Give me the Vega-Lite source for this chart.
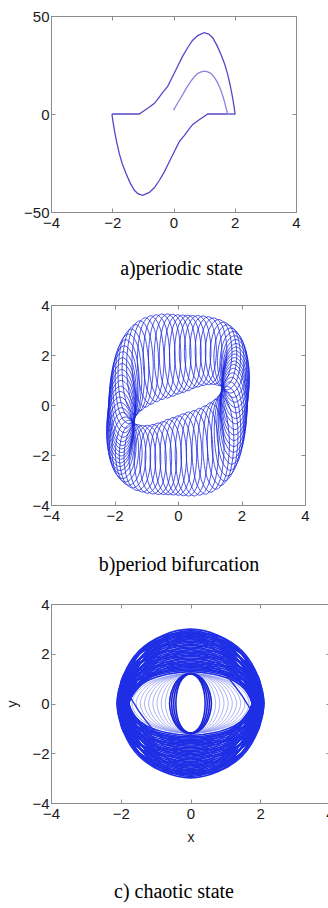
{
"$schema": "https://vega.github.io/schema/vega-lite/v6.json",
"padding": {"left": 4, "top": 5, "right": 0, "bottom": 0},
"columns": 1,
"align": "none",
"spacing": 13,
"datasets": {
"a": [
{"s":"o","i":0,"x":-2,"y":0},{"s":"o","i":1,"x":-1.12,"y":0},{"s":"o","i":2,"x":-0.84,"y":2.9},{"s":"o","i":3,"x":-0.63,"y":5.3},{"s":"o","i":4,"x":-0.52,"y":7.5},{"s":"o","i":5,"x":-0.35,"y":11},{"s":"o","i":6,"x":-0.19,"y":14.1},{"s":"o","i":7,"x":0,"y":20},{"s":"o","i":8,"x":0.14,"y":24.5},{"s":"o","i":9,"x":0.3,"y":29.5},{"s":"o","i":10,"x":0.46,"y":33.8},{"s":"o","i":11,"x":0.62,"y":37.5},{"s":"o","i":12,"x":0.79,"y":40},{"s":"o","i":13,"x":1,"y":41.5},{"s":"o","i":14,"x":1.15,"y":40.8},{"s":"o","i":15,"x":1.28,"y":38.9},{"s":"o","i":16,"x":1.42,"y":35},{"s":"o","i":17,"x":1.55,"y":30.4},{"s":"o","i":18,"x":1.67,"y":25.5},{"s":"o","i":19,"x":1.77,"y":20.2},{"s":"o","i":20,"x":1.86,"y":14},{"s":"o","i":21,"x":1.93,"y":8.3},{"s":"o","i":22,"x":1.98,"y":3.5},{"s":"o","i":23,"x":2.01,"y":0},{"s":"o","i":24,"x":1.12,"y":0},{"s":"o","i":25,"x":0.84,"y":-2.9},{"s":"o","i":26,"x":0.63,"y":-5.3},{"s":"o","i":27,"x":0.52,"y":-7.5},{"s":"o","i":28,"x":0.35,"y":-11},{"s":"o","i":29,"x":0.19,"y":-14.1},{"s":"o","i":30,"x":0,"y":-20},{"s":"o","i":31,"x":-0.14,"y":-24.5},{"s":"o","i":32,"x":-0.3,"y":-29.5},{"s":"o","i":33,"x":-0.46,"y":-33.8},{"s":"o","i":34,"x":-0.62,"y":-37.5},{"s":"o","i":35,"x":-0.79,"y":-40},{"s":"o","i":36,"x":-1,"y":-41.5},{"s":"o","i":37,"x":-1.15,"y":-40.8},{"s":"o","i":38,"x":-1.28,"y":-38.9},{"s":"o","i":39,"x":-1.42,"y":-35},{"s":"o","i":40,"x":-1.55,"y":-30.4},{"s":"o","i":41,"x":-1.67,"y":-25.5},{"s":"o","i":42,"x":-1.77,"y":-20.2},{"s":"o","i":43,"x":-1.86,"y":-14},{"s":"o","i":44,"x":-1.93,"y":-8.3},{"s":"o","i":45,"x":-1.98,"y":-3.5},{"s":"o","i":46,"x":-2.01,"y":0},
{"s":"n","i":0,"x":0,"y":1.9},{"s":"n","i":1,"x":0.15,"y":6},{"s":"n","i":2,"x":0.3,"y":9.9},{"s":"n","i":3,"x":0.45,"y":14},{"s":"n","i":4,"x":0.57,"y":16.8},{"s":"n","i":5,"x":0.68,"y":19},{"s":"n","i":6,"x":0.79,"y":20.6},{"s":"n","i":7,"x":0.9,"y":21.5},{"s":"n","i":8,"x":1.01,"y":21.9},{"s":"n","i":9,"x":1.12,"y":21.5},{"s":"n","i":10,"x":1.23,"y":20.6},{"s":"n","i":11,"x":1.34,"y":18.6},{"s":"n","i":12,"x":1.44,"y":16},{"s":"n","i":13,"x":1.53,"y":12.8},{"s":"n","i":14,"x":1.61,"y":9.2},{"s":"n","i":15,"x":1.67,"y":6},{"s":"n","i":16,"x":1.72,"y":3},{"s":"n","i":17,"x":1.77,"y":0},{"s":"n","i":18,"x":2,"y":0}
],
"b": [
{"l":0,"i":0,"x":2.2,"y":0.35},{"l":0,"i":1,"x":2.08,"y":1.45},{"l":0,"i":2,"x":1.78,"y":1.9},{"l":0,"i":3,"x":1.48,"y":1.45},{"l":0,"i":4,"x":1.36,"y":0.35},{"l":0,"i":5,"x":1.48,"y":-0.75},{"l":0,"i":6,"x":1.78,"y":-1.2},{"l":0,"i":7,"x":2.08,"y":-0.75},
{"l":1,"i":0,"x":2.23,"y":0.71},{"l":1,"i":1,"x":2.11,"y":1.74},{"l":1,"i":2,"x":1.81,"y":2.17},{"l":1,"i":3,"x":1.51,"y":1.74},{"l":1,"i":4,"x":1.39,"y":0.71},{"l":1,"i":5,"x":1.51,"y":-0.32},{"l":1,"i":6,"x":1.81,"y":-0.75},{"l":1,"i":7,"x":2.11,"y":-0.32},
{"l":2,"i":0,"x":2.25,"y":1.07},{"l":2,"i":1,"x":2.13,"y":2.05},{"l":2,"i":2,"x":1.83,"y":2.46},{"l":2,"i":3,"x":1.53,"y":2.05},{"l":2,"i":4,"x":1.41,"y":1.07},{"l":2,"i":5,"x":1.53,"y":0.09},{"l":2,"i":6,"x":1.83,"y":-0.32},{"l":2,"i":7,"x":2.13,"y":0.09},
{"l":3,"i":0,"x":2.21,"y":1.44},{"l":3,"i":1,"x":2.09,"y":2.38},{"l":3,"i":2,"x":1.79,"y":2.77},{"l":3,"i":3,"x":1.49,"y":2.38},{"l":3,"i":4,"x":1.37,"y":1.44},{"l":3,"i":5,"x":1.49,"y":0.5},{"l":3,"i":6,"x":1.79,"y":0.11},{"l":3,"i":7,"x":2.09,"y":0.5},
{"l":4,"i":0,"x":2.08,"y":1.78},{"l":4,"i":1,"x":1.96,"y":2.7},{"l":4,"i":2,"x":1.66,"y":3.08},{"l":4,"i":3,"x":1.36,"y":2.7},{"l":4,"i":4,"x":1.24,"y":1.78},{"l":4,"i":5,"x":1.36,"y":0.86},{"l":4,"i":6,"x":1.66,"y":0.48},{"l":4,"i":7,"x":1.96,"y":0.86},
{"l":5,"i":0,"x":1.85,"y":2.02},{"l":5,"i":1,"x":1.73,"y":2.94},{"l":5,"i":2,"x":1.43,"y":3.32},{"l":5,"i":3,"x":1.13,"y":2.94},{"l":5,"i":4,"x":1.01,"y":2.02},{"l":5,"i":5,"x":1.13,"y":1.1},{"l":5,"i":6,"x":1.43,"y":0.72},{"l":5,"i":7,"x":1.73,"y":1.1},
{"l":6,"i":0,"x":1.54,"y":2.15},{"l":6,"i":1,"x":1.42,"y":3.09},{"l":6,"i":2,"x":1.12,"y":3.48},{"l":6,"i":3,"x":0.82,"y":3.09},{"l":6,"i":4,"x":0.7,"y":2.15},{"l":6,"i":5,"x":0.82,"y":1.21},{"l":6,"i":6,"x":1.12,"y":0.82},{"l":6,"i":7,"x":1.42,"y":1.21},
{"l":7,"i":0,"x":1.21,"y":2.17},{"l":7,"i":1,"x":1.09,"y":3.15},{"l":7,"i":2,"x":0.79,"y":3.56},{"l":7,"i":3,"x":0.49,"y":3.15},{"l":7,"i":4,"x":0.37,"y":2.17},{"l":7,"i":5,"x":0.49,"y":1.19},{"l":7,"i":6,"x":0.79,"y":0.78},{"l":7,"i":7,"x":1.09,"y":1.19},
{"l":8,"i":0,"x":0.88,"y":2.12},{"l":8,"i":1,"x":0.76,"y":3.15},{"l":8,"i":2,"x":0.46,"y":3.58},{"l":8,"i":3,"x":0.16,"y":3.15},{"l":8,"i":4,"x":0.04,"y":2.12},{"l":8,"i":5,"x":0.16,"y":1.09},{"l":8,"i":6,"x":0.46,"y":0.66},{"l":8,"i":7,"x":0.76,"y":1.09},
{"l":9,"i":0,"x":0.57,"y":2.05},{"l":9,"i":1,"x":0.45,"y":3.15},{"l":9,"i":2,"x":0.15,"y":3.6},{"l":9,"i":3,"x":-0.15,"y":3.15},{"l":9,"i":4,"x":-0.27,"y":2.05},{"l":9,"i":5,"x":-0.15,"y":0.95},{"l":9,"i":6,"x":0.15,"y":0.5},{"l":9,"i":7,"x":0.45,"y":0.95},
{"l":10,"i":0,"x":0.25,"y":1.99},{"l":10,"i":1,"x":0.13,"y":3.15},{"l":10,"i":2,"x":-0.17,"y":3.63},{"l":10,"i":3,"x":-0.47,"y":3.15},{"l":10,"i":4,"x":-0.59,"y":1.99},{"l":10,"i":5,"x":-0.47,"y":0.83},{"l":10,"i":6,"x":-0.17,"y":0.35},{"l":10,"i":7,"x":0.13,"y":0.83},
{"l":11,"i":0,"x":-0.09,"y":1.93},{"l":11,"i":1,"x":-0.21,"y":3.14},{"l":11,"i":2,"x":-0.51,"y":3.64},{"l":11,"i":3,"x":-0.81,"y":3.14},{"l":11,"i":4,"x":-0.93,"y":1.93},{"l":11,"i":5,"x":-0.81,"y":0.72},{"l":11,"i":6,"x":-0.51,"y":0.22},{"l":11,"i":7,"x":-0.21,"y":0.72},
{"l":12,"i":0,"x":-0.44,"y":1.8},{"l":12,"i":1,"x":-0.56,"y":3.05},{"l":12,"i":2,"x":-0.86,"y":3.57},{"l":12,"i":3,"x":-1.16,"y":3.05},{"l":12,"i":4,"x":-1.28,"y":1.8},{"l":12,"i":5,"x":-1.16,"y":0.55},{"l":12,"i":6,"x":-0.86,"y":0.03},{"l":12,"i":7,"x":-0.56,"y":0.55},
{"l":13,"i":0,"x":-0.78,"y":1.57},{"l":13,"i":1,"x":-0.9,"y":2.84},{"l":13,"i":2,"x":-1.2,"y":3.37},{"l":13,"i":3,"x":-1.5,"y":2.84},{"l":13,"i":4,"x":-1.62,"y":1.57},{"l":13,"i":5,"x":-1.5,"y":0.3},{"l":13,"i":6,"x":-1.2,"y":-0.23},{"l":13,"i":7,"x":-0.9,"y":0.3},
{"l":14,"i":0,"x":-1.05,"y":1.24},{"l":14,"i":1,"x":-1.17,"y":2.51},{"l":14,"i":2,"x":-1.47,"y":3.04},{"l":14,"i":3,"x":-1.77,"y":2.51},{"l":14,"i":4,"x":-1.89,"y":1.24},{"l":14,"i":5,"x":-1.77,"y":-0.03},{"l":14,"i":6,"x":-1.47,"y":-0.56},{"l":14,"i":7,"x":-1.17,"y":-0.03},
{"l":15,"i":0,"x":-1.22,"y":0.84},{"l":15,"i":1,"x":-1.34,"y":2.09},{"l":15,"i":2,"x":-1.64,"y":2.61},{"l":15,"i":3,"x":-1.94,"y":2.09},{"l":15,"i":4,"x":-2.06,"y":0.84},{"l":15,"i":5,"x":-1.94,"y":-0.41},{"l":15,"i":6,"x":-1.64,"y":-0.93},{"l":15,"i":7,"x":-1.34,"y":-0.41},
{"l":16,"i":0,"x":-1.31,"y":0.42},{"l":16,"i":1,"x":-1.43,"y":1.63},{"l":16,"i":2,"x":-1.73,"y":2.13},{"l":16,"i":3,"x":-2.03,"y":1.63},{"l":16,"i":4,"x":-2.15,"y":0.42},{"l":16,"i":5,"x":-2.03,"y":-0.79},{"l":16,"i":6,"x":-1.73,"y":-1.29},{"l":16,"i":7,"x":-1.43,"y":-0.79},
{"l":17,"i":0,"x":-1.34,"y":0.02},{"l":17,"i":1,"x":-1.46,"y":1.18},{"l":17,"i":2,"x":-1.76,"y":1.66},{"l":17,"i":3,"x":-2.06,"y":1.18},{"l":17,"i":4,"x":-2.18,"y":0.02},{"l":17,"i":5,"x":-2.06,"y":-1.14},{"l":17,"i":6,"x":-1.76,"y":-1.62},{"l":17,"i":7,"x":-1.46,"y":-1.14},
{"l":18,"i":0,"x":-2.2,"y":-0.35},{"l":18,"i":1,"x":-2.08,"y":-1.45},{"l":18,"i":2,"x":-1.78,"y":-1.9},{"l":18,"i":3,"x":-1.48,"y":-1.45},{"l":18,"i":4,"x":-1.36,"y":-0.35},{"l":18,"i":5,"x":-1.48,"y":0.75},{"l":18,"i":6,"x":-1.78,"y":1.2},{"l":18,"i":7,"x":-2.08,"y":0.75},
{"l":19,"i":0,"x":-2.23,"y":-0.71},{"l":19,"i":1,"x":-2.11,"y":-1.74},{"l":19,"i":2,"x":-1.81,"y":-2.17},{"l":19,"i":3,"x":-1.51,"y":-1.74},{"l":19,"i":4,"x":-1.39,"y":-0.71},{"l":19,"i":5,"x":-1.51,"y":0.32},{"l":19,"i":6,"x":-1.81,"y":0.75},{"l":19,"i":7,"x":-2.11,"y":0.32},
{"l":20,"i":0,"x":-2.25,"y":-1.07},{"l":20,"i":1,"x":-2.13,"y":-2.05},{"l":20,"i":2,"x":-1.83,"y":-2.46},{"l":20,"i":3,"x":-1.53,"y":-2.05},{"l":20,"i":4,"x":-1.41,"y":-1.07},{"l":20,"i":5,"x":-1.53,"y":-0.09},{"l":20,"i":6,"x":-1.83,"y":0.32},{"l":20,"i":7,"x":-2.13,"y":-0.09},
{"l":21,"i":0,"x":-2.21,"y":-1.44},{"l":21,"i":1,"x":-2.09,"y":-2.38},{"l":21,"i":2,"x":-1.79,"y":-2.77},{"l":21,"i":3,"x":-1.49,"y":-2.38},{"l":21,"i":4,"x":-1.37,"y":-1.44},{"l":21,"i":5,"x":-1.49,"y":-0.5},{"l":21,"i":6,"x":-1.79,"y":-0.11},{"l":21,"i":7,"x":-2.09,"y":-0.5},
{"l":22,"i":0,"x":-2.08,"y":-1.78},{"l":22,"i":1,"x":-1.96,"y":-2.7},{"l":22,"i":2,"x":-1.66,"y":-3.08},{"l":22,"i":3,"x":-1.36,"y":-2.7},{"l":22,"i":4,"x":-1.24,"y":-1.78},{"l":22,"i":5,"x":-1.36,"y":-0.86},{"l":22,"i":6,"x":-1.66,"y":-0.48},{"l":22,"i":7,"x":-1.96,"y":-0.86},
{"l":23,"i":0,"x":-1.85,"y":-2.02},{"l":23,"i":1,"x":-1.73,"y":-2.94},{"l":23,"i":2,"x":-1.43,"y":-3.32},{"l":23,"i":3,"x":-1.13,"y":-2.94},{"l":23,"i":4,"x":-1.01,"y":-2.02},{"l":23,"i":5,"x":-1.13,"y":-1.1},{"l":23,"i":6,"x":-1.43,"y":-0.72},{"l":23,"i":7,"x":-1.73,"y":-1.1},
{"l":24,"i":0,"x":-1.54,"y":-2.15},{"l":24,"i":1,"x":-1.42,"y":-3.09},{"l":24,"i":2,"x":-1.12,"y":-3.48},{"l":24,"i":3,"x":-0.82,"y":-3.09},{"l":24,"i":4,"x":-0.7,"y":-2.15},{"l":24,"i":5,"x":-0.82,"y":-1.21},{"l":24,"i":6,"x":-1.12,"y":-0.82},{"l":24,"i":7,"x":-1.42,"y":-1.21},
{"l":25,"i":0,"x":-1.21,"y":-2.17},{"l":25,"i":1,"x":-1.09,"y":-3.15},{"l":25,"i":2,"x":-0.79,"y":-3.56},{"l":25,"i":3,"x":-0.49,"y":-3.15},{"l":25,"i":4,"x":-0.37,"y":-2.17},{"l":25,"i":5,"x":-0.49,"y":-1.19},{"l":25,"i":6,"x":-0.79,"y":-0.78},{"l":25,"i":7,"x":-1.09,"y":-1.19},
{"l":26,"i":0,"x":-0.88,"y":-2.12},{"l":26,"i":1,"x":-0.76,"y":-3.15},{"l":26,"i":2,"x":-0.46,"y":-3.58},{"l":26,"i":3,"x":-0.16,"y":-3.15},{"l":26,"i":4,"x":-0.04,"y":-2.12},{"l":26,"i":5,"x":-0.16,"y":-1.09},{"l":26,"i":6,"x":-0.46,"y":-0.66},{"l":26,"i":7,"x":-0.76,"y":-1.09},
{"l":27,"i":0,"x":-0.57,"y":-2.05},{"l":27,"i":1,"x":-0.45,"y":-3.15},{"l":27,"i":2,"x":-0.15,"y":-3.6},{"l":27,"i":3,"x":0.15,"y":-3.15},{"l":27,"i":4,"x":0.27,"y":-2.05},{"l":27,"i":5,"x":0.15,"y":-0.95},{"l":27,"i":6,"x":-0.15,"y":-0.5},{"l":27,"i":7,"x":-0.45,"y":-0.95},
{"l":28,"i":0,"x":-0.25,"y":-1.99},{"l":28,"i":1,"x":-0.13,"y":-3.15},{"l":28,"i":2,"x":0.17,"y":-3.63},{"l":28,"i":3,"x":0.47,"y":-3.15},{"l":28,"i":4,"x":0.59,"y":-1.99},{"l":28,"i":5,"x":0.47,"y":-0.83},{"l":28,"i":6,"x":0.17,"y":-0.35},{"l":28,"i":7,"x":-0.13,"y":-0.83},
{"l":29,"i":0,"x":0.09,"y":-1.93},{"l":29,"i":1,"x":0.21,"y":-3.14},{"l":29,"i":2,"x":0.51,"y":-3.64},{"l":29,"i":3,"x":0.81,"y":-3.14},{"l":29,"i":4,"x":0.93,"y":-1.93},{"l":29,"i":5,"x":0.81,"y":-0.72},{"l":29,"i":6,"x":0.51,"y":-0.22},{"l":29,"i":7,"x":0.21,"y":-0.72},
{"l":30,"i":0,"x":0.44,"y":-1.8},{"l":30,"i":1,"x":0.56,"y":-3.05},{"l":30,"i":2,"x":0.86,"y":-3.57},{"l":30,"i":3,"x":1.16,"y":-3.05},{"l":30,"i":4,"x":1.28,"y":-1.8},{"l":30,"i":5,"x":1.16,"y":-0.55},{"l":30,"i":6,"x":0.86,"y":-0.03},{"l":30,"i":7,"x":0.56,"y":-0.55},
{"l":31,"i":0,"x":0.78,"y":-1.57},{"l":31,"i":1,"x":0.9,"y":-2.84},{"l":31,"i":2,"x":1.2,"y":-3.37},{"l":31,"i":3,"x":1.5,"y":-2.84},{"l":31,"i":4,"x":1.62,"y":-1.57},{"l":31,"i":5,"x":1.5,"y":-0.3},{"l":31,"i":6,"x":1.2,"y":0.23},{"l":31,"i":7,"x":0.9,"y":-0.3},
{"l":32,"i":0,"x":1.05,"y":-1.24},{"l":32,"i":1,"x":1.17,"y":-2.51},{"l":32,"i":2,"x":1.47,"y":-3.04},{"l":32,"i":3,"x":1.77,"y":-2.51},{"l":32,"i":4,"x":1.89,"y":-1.24},{"l":32,"i":5,"x":1.77,"y":0.03},{"l":32,"i":6,"x":1.47,"y":0.56},{"l":32,"i":7,"x":1.17,"y":0.03},
{"l":33,"i":0,"x":1.22,"y":-0.84},{"l":33,"i":1,"x":1.34,"y":-2.09},{"l":33,"i":2,"x":1.64,"y":-2.61},{"l":33,"i":3,"x":1.94,"y":-2.09},{"l":33,"i":4,"x":2.06,"y":-0.84},{"l":33,"i":5,"x":1.94,"y":0.41},{"l":33,"i":6,"x":1.64,"y":0.93},{"l":33,"i":7,"x":1.34,"y":0.41},
{"l":34,"i":0,"x":1.31,"y":-0.42},{"l":34,"i":1,"x":1.43,"y":-1.63},{"l":34,"i":2,"x":1.73,"y":-2.13},{"l":34,"i":3,"x":2.03,"y":-1.63},{"l":34,"i":4,"x":2.15,"y":-0.42},{"l":34,"i":5,"x":2.03,"y":0.79},{"l":34,"i":6,"x":1.73,"y":1.29},{"l":34,"i":7,"x":1.43,"y":0.79},
{"l":35,"i":0,"x":1.34,"y":-0.02},{"l":35,"i":1,"x":1.46,"y":-1.18},{"l":35,"i":2,"x":1.76,"y":-1.66},{"l":35,"i":3,"x":2.06,"y":-1.18},{"l":35,"i":4,"x":2.18,"y":-0.02},{"l":35,"i":5,"x":2.06,"y":1.14},{"l":35,"i":6,"x":1.76,"y":1.62},{"l":35,"i":7,"x":1.46,"y":1.14},
{"l":36,"i":0,"x":2.21,"y":0.53},{"l":36,"i":1,"x":2.09,"y":1.6},{"l":36,"i":2,"x":1.79,"y":2.04},{"l":36,"i":3,"x":1.49,"y":1.6},{"l":36,"i":4,"x":1.37,"y":0.53},{"l":36,"i":5,"x":1.49,"y":-0.54},{"l":36,"i":6,"x":1.79,"y":-0.98},{"l":36,"i":7,"x":2.09,"y":-0.54},
{"l":37,"i":0,"x":2.24,"y":0.89},{"l":37,"i":1,"x":2.12,"y":1.9},{"l":37,"i":2,"x":1.82,"y":2.32},{"l":37,"i":3,"x":1.52,"y":1.9},{"l":37,"i":4,"x":1.4,"y":0.89},{"l":37,"i":5,"x":1.52,"y":-0.12},{"l":37,"i":6,"x":1.82,"y":-0.54},{"l":37,"i":7,"x":2.12,"y":-0.12},
{"l":38,"i":0,"x":2.24,"y":1.26},{"l":38,"i":1,"x":2.12,"y":2.22},{"l":38,"i":2,"x":1.82,"y":2.62},{"l":38,"i":3,"x":1.52,"y":2.22},{"l":38,"i":4,"x":1.4,"y":1.26},{"l":38,"i":5,"x":1.52,"y":0.3},{"l":38,"i":6,"x":1.82,"y":-0.1},{"l":38,"i":7,"x":2.12,"y":0.3},
{"l":39,"i":0,"x":2.16,"y":1.62},{"l":39,"i":1,"x":2.04,"y":2.55},{"l":39,"i":2,"x":1.74,"y":2.94},{"l":39,"i":3,"x":1.44,"y":2.55},{"l":39,"i":4,"x":1.32,"y":1.62},{"l":39,"i":5,"x":1.44,"y":0.69},{"l":39,"i":6,"x":1.74,"y":0.3},{"l":39,"i":7,"x":2.04,"y":0.69},
{"l":40,"i":0,"x":1.97,"y":1.91},{"l":40,"i":1,"x":1.85,"y":2.83},{"l":40,"i":2,"x":1.55,"y":3.21},{"l":40,"i":3,"x":1.25,"y":2.83},{"l":40,"i":4,"x":1.13,"y":1.91},{"l":40,"i":5,"x":1.25,"y":0.99},{"l":40,"i":6,"x":1.55,"y":0.61},{"l":40,"i":7,"x":1.85,"y":0.99},
{"l":41,"i":0,"x":1.7,"y":2.1},{"l":41,"i":1,"x":1.58,"y":3.03},{"l":41,"i":2,"x":1.28,"y":3.42},{"l":41,"i":3,"x":0.98,"y":3.03},{"l":41,"i":4,"x":0.86,"y":2.1},{"l":41,"i":5,"x":0.98,"y":1.17},{"l":41,"i":6,"x":1.28,"y":0.78},{"l":41,"i":7,"x":1.58,"y":1.17},
{"l":42,"i":0,"x":1.38,"y":2.17},{"l":42,"i":1,"x":1.26,"y":3.13},{"l":42,"i":2,"x":0.96,"y":3.53},{"l":42,"i":3,"x":0.66,"y":3.13},{"l":42,"i":4,"x":0.54,"y":2.17},{"l":42,"i":5,"x":0.66,"y":1.21},{"l":42,"i":6,"x":0.96,"y":0.81},{"l":42,"i":7,"x":1.26,"y":1.21},
{"l":43,"i":0,"x":1.04,"y":2.15},{"l":43,"i":1,"x":0.92,"y":3.16},{"l":43,"i":2,"x":0.62,"y":3.58},{"l":43,"i":3,"x":0.32,"y":3.16},{"l":43,"i":4,"x":0.2,"y":2.15},{"l":43,"i":5,"x":0.32,"y":1.14},{"l":43,"i":6,"x":0.62,"y":0.72},{"l":43,"i":7,"x":0.92,"y":1.14},
{"l":44,"i":0,"x":0.73,"y":2.08},{"l":44,"i":1,"x":0.61,"y":3.15},{"l":44,"i":2,"x":0.31,"y":3.59},{"l":44,"i":3,"x":0.01,"y":3.15},{"l":44,"i":4,"x":-0.11,"y":2.08},{"l":44,"i":5,"x":0.01,"y":1.01},{"l":44,"i":6,"x":0.31,"y":0.57},{"l":44,"i":7,"x":0.61,"y":1.01},
{"l":45,"i":0,"x":0.41,"y":2.02},{"l":45,"i":1,"x":0.29,"y":3.14},{"l":45,"i":2,"x":-0.01,"y":3.61},{"l":45,"i":3,"x":-0.31,"y":3.14},{"l":45,"i":4,"x":-0.43,"y":2.02},{"l":45,"i":5,"x":-0.31,"y":0.9},{"l":45,"i":6,"x":-0.01,"y":0.43},{"l":45,"i":7,"x":0.29,"y":0.9},
{"l":46,"i":0,"x":0.09,"y":1.96},{"l":46,"i":1,"x":-0.03,"y":3.15},{"l":46,"i":2,"x":-0.33,"y":3.64},{"l":46,"i":3,"x":-0.63,"y":3.15},{"l":46,"i":4,"x":-0.75,"y":1.96},{"l":46,"i":5,"x":-0.63,"y":0.77},{"l":46,"i":6,"x":-0.33,"y":0.28},{"l":46,"i":7,"x":-0.03,"y":0.77},
{"l":47,"i":0,"x":-0.26,"y":1.87},{"l":47,"i":1,"x":-0.38,"y":3.1},{"l":47,"i":2,"x":-0.68,"y":3.61},{"l":47,"i":3,"x":-0.98,"y":3.1},{"l":47,"i":4,"x":-1.1,"y":1.87},{"l":47,"i":5,"x":-0.98,"y":0.64},{"l":47,"i":6,"x":-0.68,"y":0.13},{"l":47,"i":7,"x":-0.38,"y":0.64},
{"l":48,"i":0,"x":-0.61,"y":1.7},{"l":48,"i":1,"x":-0.73,"y":2.97},{"l":48,"i":2,"x":-1.03,"y":3.49},{"l":48,"i":3,"x":-1.33,"y":2.97},{"l":48,"i":4,"x":-1.45,"y":1.7},{"l":48,"i":5,"x":-1.33,"y":0.43},{"l":48,"i":6,"x":-1.03,"y":-0.09},{"l":48,"i":7,"x":-0.73,"y":0.43},
{"l":49,"i":0,"x":-0.92,"y":1.42},{"l":49,"i":1,"x":-1.04,"y":2.69},{"l":49,"i":2,"x":-1.34,"y":3.22},{"l":49,"i":3,"x":-1.64,"y":2.69},{"l":49,"i":4,"x":-1.76,"y":1.42},{"l":49,"i":5,"x":-1.64,"y":0.15},{"l":49,"i":6,"x":-1.34,"y":-0.38},{"l":49,"i":7,"x":-1.04,"y":0.15},
{"l":50,"i":0,"x":-1.14,"y":1.05},{"l":50,"i":1,"x":-1.26,"y":2.32},{"l":50,"i":2,"x":-1.56,"y":2.84},{"l":50,"i":3,"x":-1.86,"y":2.32},{"l":50,"i":4,"x":-1.98,"y":1.05},{"l":50,"i":5,"x":-1.86,"y":-0.22},{"l":50,"i":6,"x":-1.56,"y":-0.74},{"l":50,"i":7,"x":-1.26,"y":-0.22},
{"l":51,"i":0,"x":-1.27,"y":0.63},{"l":51,"i":1,"x":-1.39,"y":1.86},{"l":51,"i":2,"x":-1.69,"y":2.37},{"l":51,"i":3,"x":-1.99,"y":1.86},{"l":51,"i":4,"x":-2.11,"y":0.63},{"l":51,"i":5,"x":-1.99,"y":-0.6},{"l":51,"i":6,"x":-1.69,"y":-1.11},{"l":51,"i":7,"x":-1.39,"y":-0.6},
{"l":52,"i":0,"x":-1.33,"y":0.21},{"l":52,"i":1,"x":-1.45,"y":1.4},{"l":52,"i":2,"x":-1.75,"y":1.89},{"l":52,"i":3,"x":-2.05,"y":1.4},{"l":52,"i":4,"x":-2.17,"y":0.21},{"l":52,"i":5,"x":-2.05,"y":-0.98},{"l":52,"i":6,"x":-1.75,"y":-1.47},{"l":52,"i":7,"x":-1.45,"y":-0.98},
{"l":53,"i":0,"x":-1.35,"y":-0.17},{"l":53,"i":1,"x":-1.47,"y":0.95},{"l":53,"i":2,"x":-1.77,"y":1.42},{"l":53,"i":3,"x":-2.07,"y":0.95},{"l":53,"i":4,"x":-2.19,"y":-0.17},{"l":53,"i":5,"x":-2.07,"y":-1.29},{"l":53,"i":6,"x":-1.77,"y":-1.76},{"l":53,"i":7,"x":-1.47,"y":-1.29},
{"l":54,"i":0,"x":-2.21,"y":-0.53},{"l":54,"i":1,"x":-2.09,"y":-1.6},{"l":54,"i":2,"x":-1.79,"y":-2.04},{"l":54,"i":3,"x":-1.49,"y":-1.6},{"l":54,"i":4,"x":-1.37,"y":-0.53},{"l":54,"i":5,"x":-1.49,"y":0.54},{"l":54,"i":6,"x":-1.79,"y":0.98},{"l":54,"i":7,"x":-2.09,"y":0.54},
{"l":55,"i":0,"x":-2.24,"y":-0.89},{"l":55,"i":1,"x":-2.12,"y":-1.9},{"l":55,"i":2,"x":-1.82,"y":-2.32},{"l":55,"i":3,"x":-1.52,"y":-1.9},{"l":55,"i":4,"x":-1.4,"y":-0.89},{"l":55,"i":5,"x":-1.52,"y":0.12},{"l":55,"i":6,"x":-1.82,"y":0.54},{"l":55,"i":7,"x":-2.12,"y":0.12},
{"l":56,"i":0,"x":-2.24,"y":-1.26},{"l":56,"i":1,"x":-2.12,"y":-2.22},{"l":56,"i":2,"x":-1.82,"y":-2.62},{"l":56,"i":3,"x":-1.52,"y":-2.22},{"l":56,"i":4,"x":-1.4,"y":-1.26},{"l":56,"i":5,"x":-1.52,"y":-0.3},{"l":56,"i":6,"x":-1.82,"y":0.1},{"l":56,"i":7,"x":-2.12,"y":-0.3},
{"l":57,"i":0,"x":-2.16,"y":-1.62},{"l":57,"i":1,"x":-2.04,"y":-2.55},{"l":57,"i":2,"x":-1.74,"y":-2.94},{"l":57,"i":3,"x":-1.44,"y":-2.55},{"l":57,"i":4,"x":-1.32,"y":-1.62},{"l":57,"i":5,"x":-1.44,"y":-0.69},{"l":57,"i":6,"x":-1.74,"y":-0.3},{"l":57,"i":7,"x":-2.04,"y":-0.69},
{"l":58,"i":0,"x":-1.97,"y":-1.91},{"l":58,"i":1,"x":-1.85,"y":-2.83},{"l":58,"i":2,"x":-1.55,"y":-3.21},{"l":58,"i":3,"x":-1.25,"y":-2.83},{"l":58,"i":4,"x":-1.13,"y":-1.91},{"l":58,"i":5,"x":-1.25,"y":-0.99},{"l":58,"i":6,"x":-1.55,"y":-0.61},{"l":58,"i":7,"x":-1.85,"y":-0.99},
{"l":59,"i":0,"x":-1.7,"y":-2.1},{"l":59,"i":1,"x":-1.58,"y":-3.03},{"l":59,"i":2,"x":-1.28,"y":-3.42},{"l":59,"i":3,"x":-0.98,"y":-3.03},{"l":59,"i":4,"x":-0.86,"y":-2.1},{"l":59,"i":5,"x":-0.98,"y":-1.17},{"l":59,"i":6,"x":-1.28,"y":-0.78},{"l":59,"i":7,"x":-1.58,"y":-1.17},
{"l":60,"i":0,"x":-1.38,"y":-2.17},{"l":60,"i":1,"x":-1.26,"y":-3.13},{"l":60,"i":2,"x":-0.96,"y":-3.53},{"l":60,"i":3,"x":-0.66,"y":-3.13},{"l":60,"i":4,"x":-0.54,"y":-2.17},{"l":60,"i":5,"x":-0.66,"y":-1.21},{"l":60,"i":6,"x":-0.96,"y":-0.81},{"l":60,"i":7,"x":-1.26,"y":-1.21},
{"l":61,"i":0,"x":-1.04,"y":-2.15},{"l":61,"i":1,"x":-0.92,"y":-3.16},{"l":61,"i":2,"x":-0.62,"y":-3.58},{"l":61,"i":3,"x":-0.32,"y":-3.16},{"l":61,"i":4,"x":-0.2,"y":-2.15},{"l":61,"i":5,"x":-0.32,"y":-1.14},{"l":61,"i":6,"x":-0.62,"y":-0.72},{"l":61,"i":7,"x":-0.92,"y":-1.14},
{"l":62,"i":0,"x":-0.73,"y":-2.08},{"l":62,"i":1,"x":-0.61,"y":-3.15},{"l":62,"i":2,"x":-0.31,"y":-3.59},{"l":62,"i":3,"x":-0.01,"y":-3.15},{"l":62,"i":4,"x":0.11,"y":-2.08},{"l":62,"i":5,"x":-0.01,"y":-1.01},{"l":62,"i":6,"x":-0.31,"y":-0.57},{"l":62,"i":7,"x":-0.61,"y":-1.01},
{"l":63,"i":0,"x":-0.41,"y":-2.02},{"l":63,"i":1,"x":-0.29,"y":-3.14},{"l":63,"i":2,"x":0.01,"y":-3.61},{"l":63,"i":3,"x":0.31,"y":-3.14},{"l":63,"i":4,"x":0.43,"y":-2.02},{"l":63,"i":5,"x":0.31,"y":-0.9},{"l":63,"i":6,"x":0.01,"y":-0.43},{"l":63,"i":7,"x":-0.29,"y":-0.9},
{"l":64,"i":0,"x":-0.09,"y":-1.96},{"l":64,"i":1,"x":0.03,"y":-3.15},{"l":64,"i":2,"x":0.33,"y":-3.64},{"l":64,"i":3,"x":0.63,"y":-3.15},{"l":64,"i":4,"x":0.75,"y":-1.96},{"l":64,"i":5,"x":0.63,"y":-0.77},{"l":64,"i":6,"x":0.33,"y":-0.28},{"l":64,"i":7,"x":0.03,"y":-0.77},
{"l":65,"i":0,"x":0.26,"y":-1.87},{"l":65,"i":1,"x":0.38,"y":-3.1},{"l":65,"i":2,"x":0.68,"y":-3.61},{"l":65,"i":3,"x":0.98,"y":-3.1},{"l":65,"i":4,"x":1.1,"y":-1.87},{"l":65,"i":5,"x":0.98,"y":-0.64},{"l":65,"i":6,"x":0.68,"y":-0.13},{"l":65,"i":7,"x":0.38,"y":-0.64},
{"l":66,"i":0,"x":0.61,"y":-1.7},{"l":66,"i":1,"x":0.73,"y":-2.97},{"l":66,"i":2,"x":1.03,"y":-3.49},{"l":66,"i":3,"x":1.33,"y":-2.97},{"l":66,"i":4,"x":1.45,"y":-1.7},{"l":66,"i":5,"x":1.33,"y":-0.43},{"l":66,"i":6,"x":1.03,"y":0.09},{"l":66,"i":7,"x":0.73,"y":-0.43},
{"l":67,"i":0,"x":0.92,"y":-1.42},{"l":67,"i":1,"x":1.04,"y":-2.69},{"l":67,"i":2,"x":1.34,"y":-3.22},{"l":67,"i":3,"x":1.64,"y":-2.69},{"l":67,"i":4,"x":1.76,"y":-1.42},{"l":67,"i":5,"x":1.64,"y":-0.15},{"l":67,"i":6,"x":1.34,"y":0.38},{"l":67,"i":7,"x":1.04,"y":-0.15},
{"l":68,"i":0,"x":1.14,"y":-1.05},{"l":68,"i":1,"x":1.26,"y":-2.32},{"l":68,"i":2,"x":1.56,"y":-2.84},{"l":68,"i":3,"x":1.86,"y":-2.32},{"l":68,"i":4,"x":1.98,"y":-1.05},{"l":68,"i":5,"x":1.86,"y":0.22},{"l":68,"i":6,"x":1.56,"y":0.74},{"l":68,"i":7,"x":1.26,"y":0.22},
{"l":69,"i":0,"x":1.27,"y":-0.63},{"l":69,"i":1,"x":1.39,"y":-1.86},{"l":69,"i":2,"x":1.69,"y":-2.37},{"l":69,"i":3,"x":1.99,"y":-1.86},{"l":69,"i":4,"x":2.11,"y":-0.63},{"l":69,"i":5,"x":1.99,"y":0.6},{"l":69,"i":6,"x":1.69,"y":1.11},{"l":69,"i":7,"x":1.39,"y":0.6},
{"l":70,"i":0,"x":1.33,"y":-0.21},{"l":70,"i":1,"x":1.45,"y":-1.4},{"l":70,"i":2,"x":1.75,"y":-1.89},{"l":70,"i":3,"x":2.05,"y":-1.4},{"l":70,"i":4,"x":2.17,"y":-0.21},{"l":70,"i":5,"x":2.05,"y":0.98},{"l":70,"i":6,"x":1.75,"y":1.47},{"l":70,"i":7,"x":1.45,"y":0.98},
{"l":71,"i":0,"x":1.35,"y":0.17},{"l":71,"i":1,"x":1.47,"y":-0.95},{"l":71,"i":2,"x":1.77,"y":-1.42},{"l":71,"i":3,"x":2.07,"y":-0.95},{"l":71,"i":4,"x":2.19,"y":0.17},{"l":71,"i":5,"x":2.07,"y":1.29},{"l":71,"i":6,"x":1.77,"y":1.76},{"l":71,"i":7,"x":1.47,"y":1.29}
],
"cring": [
{"l":0,"i":0,"x":1.76,"y":0},{"l":0,"i":1,"x":1.24,"y":0.91},{"l":0,"i":2,"x":0,"y":1.28},{"l":0,"i":3,"x":-1.24,"y":0.91},{"l":0,"i":4,"x":-1.76,"y":0},{"l":0,"i":5,"x":-1.24,"y":-0.91},{"l":0,"i":6,"x":0,"y":-1.28},{"l":0,"i":7,"x":1.24,"y":-0.91},
{"l":1,"i":0,"x":1.91,"y":0},{"l":1,"i":1,"x":1.35,"y":0.94},{"l":1,"i":2,"x":0,"y":1.34},{"l":1,"i":3,"x":-1.35,"y":0.94},{"l":1,"i":4,"x":-1.91,"y":0},{"l":1,"i":5,"x":-1.35,"y":-0.94},{"l":1,"i":6,"x":0,"y":-1.34},{"l":1,"i":7,"x":1.35,"y":-0.94},
{"l":2,"i":0,"x":2.05,"y":0},{"l":2,"i":1,"x":1.45,"y":0.98},{"l":2,"i":2,"x":0,"y":1.39},{"l":2,"i":3,"x":-1.45,"y":0.98},{"l":2,"i":4,"x":-2.05,"y":0},{"l":2,"i":5,"x":-1.45,"y":-0.98},{"l":2,"i":6,"x":0,"y":-1.39},{"l":2,"i":7,"x":1.45,"y":-0.98},
{"l":3,"i":0,"x":1.84,"y":0},{"l":3,"i":1,"x":1.3,"y":1.02},{"l":3,"i":2,"x":0,"y":1.45},{"l":3,"i":3,"x":-1.3,"y":1.02},{"l":3,"i":4,"x":-1.84,"y":0},{"l":3,"i":5,"x":-1.3,"y":-1.02},{"l":3,"i":6,"x":0,"y":-1.45},{"l":3,"i":7,"x":1.3,"y":-1.02},
{"l":4,"i":0,"x":1.99,"y":0},{"l":4,"i":1,"x":1.41,"y":1.06},{"l":4,"i":2,"x":0,"y":1.5},{"l":4,"i":3,"x":-1.41,"y":1.06},{"l":4,"i":4,"x":-1.99,"y":0},{"l":4,"i":5,"x":-1.41,"y":-1.06},{"l":4,"i":6,"x":0,"y":-1.5},{"l":4,"i":7,"x":1.41,"y":-1.06},
{"l":5,"i":0,"x":1.77,"y":0},{"l":5,"i":1,"x":1.25,"y":1.1},{"l":5,"i":2,"x":0,"y":1.56},{"l":5,"i":3,"x":-1.25,"y":1.1},{"l":5,"i":4,"x":-1.77,"y":0},{"l":5,"i":5,"x":-1.25,"y":-1.1},{"l":5,"i":6,"x":0,"y":-1.56},{"l":5,"i":7,"x":1.25,"y":-1.1},
{"l":6,"i":0,"x":1.92,"y":0},{"l":6,"i":1,"x":1.36,"y":1.14},{"l":6,"i":2,"x":0,"y":1.61},{"l":6,"i":3,"x":-1.36,"y":1.14},{"l":6,"i":4,"x":-1.92,"y":0},{"l":6,"i":5,"x":-1.36,"y":-1.14},{"l":6,"i":6,"x":0,"y":-1.61},{"l":6,"i":7,"x":1.36,"y":-1.14},
{"l":7,"i":0,"x":2.07,"y":0},{"l":7,"i":1,"x":1.46,"y":1.18},{"l":7,"i":2,"x":0,"y":1.67},{"l":7,"i":3,"x":-1.46,"y":1.18},{"l":7,"i":4,"x":-2.07,"y":0},{"l":7,"i":5,"x":-1.46,"y":-1.18},{"l":7,"i":6,"x":0,"y":-1.67},{"l":7,"i":7,"x":1.46,"y":-1.18},
{"l":8,"i":0,"x":1.85,"y":0},{"l":8,"i":1,"x":1.31,"y":1.22},{"l":8,"i":2,"x":0,"y":1.72},{"l":8,"i":3,"x":-1.31,"y":1.22},{"l":8,"i":4,"x":-1.85,"y":0},{"l":8,"i":5,"x":-1.31,"y":-1.22},{"l":8,"i":6,"x":0,"y":-1.72},{"l":8,"i":7,"x":1.31,"y":-1.22},
{"l":9,"i":0,"x":2,"y":0},{"l":9,"i":1,"x":1.41,"y":1.26},{"l":9,"i":2,"x":0,"y":1.78},{"l":9,"i":3,"x":-1.41,"y":1.26},{"l":9,"i":4,"x":-2,"y":0},{"l":9,"i":5,"x":-1.41,"y":-1.26},{"l":9,"i":6,"x":0,"y":-1.78},{"l":9,"i":7,"x":1.41,"y":-1.26},
{"l":10,"i":0,"x":1.78,"y":0},{"l":10,"i":1,"x":1.26,"y":1.29},{"l":10,"i":2,"x":0,"y":1.83},{"l":10,"i":3,"x":-1.26,"y":1.29},{"l":10,"i":4,"x":-1.78,"y":0},{"l":10,"i":5,"x":-1.26,"y":-1.29},{"l":10,"i":6,"x":0,"y":-1.83},{"l":10,"i":7,"x":1.26,"y":-1.29},
{"l":11,"i":0,"x":1.93,"y":0},{"l":11,"i":1,"x":1.37,"y":1.33},{"l":11,"i":2,"x":0,"y":1.89},{"l":11,"i":3,"x":-1.37,"y":1.33},{"l":11,"i":4,"x":-1.93,"y":0},{"l":11,"i":5,"x":-1.37,"y":-1.33},{"l":11,"i":6,"x":0,"y":-1.89},{"l":11,"i":7,"x":1.37,"y":-1.33},
{"l":12,"i":0,"x":2.08,"y":0},{"l":12,"i":1,"x":1.47,"y":1.37},{"l":12,"i":2,"x":0,"y":1.94},{"l":12,"i":3,"x":-1.47,"y":1.37},{"l":12,"i":4,"x":-2.08,"y":0},{"l":12,"i":5,"x":-1.47,"y":-1.37},{"l":12,"i":6,"x":0,"y":-1.94},{"l":12,"i":7,"x":1.47,"y":-1.37},
{"l":13,"i":0,"x":1.86,"y":0},{"l":13,"i":1,"x":1.32,"y":1.41},{"l":13,"i":2,"x":0,"y":2},{"l":13,"i":3,"x":-1.32,"y":1.41},{"l":13,"i":4,"x":-1.86,"y":0},{"l":13,"i":5,"x":-1.32,"y":-1.41},{"l":13,"i":6,"x":0,"y":-2},{"l":13,"i":7,"x":1.32,"y":-1.41},
{"l":14,"i":0,"x":2.01,"y":0},{"l":14,"i":1,"x":1.42,"y":1.45},{"l":14,"i":2,"x":0,"y":2.05},{"l":14,"i":3,"x":-1.42,"y":1.45},{"l":14,"i":4,"x":-2.01,"y":0},{"l":14,"i":5,"x":-1.42,"y":-1.45},{"l":14,"i":6,"x":0,"y":-2.05},{"l":14,"i":7,"x":1.42,"y":-1.45},
{"l":15,"i":0,"x":1.79,"y":0},{"l":15,"i":1,"x":1.27,"y":1.49},{"l":15,"i":2,"x":0,"y":2.11},{"l":15,"i":3,"x":-1.27,"y":1.49},{"l":15,"i":4,"x":-1.79,"y":0},{"l":15,"i":5,"x":-1.27,"y":-1.49},{"l":15,"i":6,"x":0,"y":-2.11},{"l":15,"i":7,"x":1.27,"y":-1.49},
{"l":16,"i":0,"x":1.94,"y":0},{"l":16,"i":1,"x":1.37,"y":1.53},{"l":16,"i":2,"x":0,"y":2.16},{"l":16,"i":3,"x":-1.37,"y":1.53},{"l":16,"i":4,"x":-1.94,"y":0},{"l":16,"i":5,"x":-1.37,"y":-1.53},{"l":16,"i":6,"x":0,"y":-2.16},{"l":16,"i":7,"x":1.37,"y":-1.53},
{"l":17,"i":0,"x":2.09,"y":0},{"l":17,"i":1,"x":1.48,"y":1.57},{"l":17,"i":2,"x":0,"y":2.22},{"l":17,"i":3,"x":-1.48,"y":1.57},{"l":17,"i":4,"x":-2.09,"y":0},{"l":17,"i":5,"x":-1.48,"y":-1.57},{"l":17,"i":6,"x":0,"y":-2.22},{"l":17,"i":7,"x":1.48,"y":-1.57},
{"l":18,"i":0,"x":1.87,"y":0},{"l":18,"i":1,"x":1.32,"y":1.61},{"l":18,"i":2,"x":0,"y":2.27},{"l":18,"i":3,"x":-1.32,"y":1.61},{"l":18,"i":4,"x":-1.87,"y":0},{"l":18,"i":5,"x":-1.32,"y":-1.61},{"l":18,"i":6,"x":0,"y":-2.27},{"l":18,"i":7,"x":1.32,"y":-1.61},
{"l":19,"i":0,"x":2.02,"y":0},{"l":19,"i":1,"x":1.43,"y":1.64},{"l":19,"i":2,"x":0,"y":2.33},{"l":19,"i":3,"x":-1.43,"y":1.64},{"l":19,"i":4,"x":-2.02,"y":0},{"l":19,"i":5,"x":-1.43,"y":-1.64},{"l":19,"i":6,"x":0,"y":-2.33},{"l":19,"i":7,"x":1.43,"y":-1.64},
{"l":20,"i":0,"x":1.8,"y":0},{"l":20,"i":1,"x":1.27,"y":1.68},{"l":20,"i":2,"x":0,"y":2.38},{"l":20,"i":3,"x":-1.27,"y":1.68},{"l":20,"i":4,"x":-1.8,"y":0},{"l":20,"i":5,"x":-1.27,"y":-1.68},{"l":20,"i":6,"x":0,"y":-2.38},{"l":20,"i":7,"x":1.27,"y":-1.68},
{"l":21,"i":0,"x":1.95,"y":0},{"l":21,"i":1,"x":1.38,"y":1.72},{"l":21,"i":2,"x":0,"y":2.44},{"l":21,"i":3,"x":-1.38,"y":1.72},{"l":21,"i":4,"x":-1.95,"y":0},{"l":21,"i":5,"x":-1.38,"y":-1.72},{"l":21,"i":6,"x":0,"y":-2.44},{"l":21,"i":7,"x":1.38,"y":-1.72},
{"l":22,"i":0,"x":2.1,"y":0},{"l":22,"i":1,"x":1.48,"y":1.76},{"l":22,"i":2,"x":0,"y":2.49},{"l":22,"i":3,"x":-1.48,"y":1.76},{"l":22,"i":4,"x":-2.1,"y":0},{"l":22,"i":5,"x":-1.48,"y":-1.76},{"l":22,"i":6,"x":0,"y":-2.49},{"l":22,"i":7,"x":1.48,"y":-1.76},
{"l":23,"i":0,"x":1.88,"y":0},{"l":23,"i":1,"x":1.33,"y":1.8},{"l":23,"i":2,"x":0,"y":2.55},{"l":23,"i":3,"x":-1.33,"y":1.8},{"l":23,"i":4,"x":-1.88,"y":0},{"l":23,"i":5,"x":-1.33,"y":-1.8},{"l":23,"i":6,"x":0,"y":-2.55},{"l":23,"i":7,"x":1.33,"y":-1.8},
{"l":24,"i":0,"x":2.03,"y":0},{"l":24,"i":1,"x":1.44,"y":1.84},{"l":24,"i":2,"x":0,"y":2.6},{"l":24,"i":3,"x":-1.44,"y":1.84},{"l":24,"i":4,"x":-2.03,"y":0},{"l":24,"i":5,"x":-1.44,"y":-1.84},{"l":24,"i":6,"x":0,"y":-2.6},{"l":24,"i":7,"x":1.44,"y":-1.84},
{"l":25,"i":0,"x":1.81,"y":0},{"l":25,"i":1,"x":1.28,"y":1.88},{"l":25,"i":2,"x":0,"y":2.66},{"l":25,"i":3,"x":-1.28,"y":1.88},{"l":25,"i":4,"x":-1.81,"y":0},{"l":25,"i":5,"x":-1.28,"y":-1.88},{"l":25,"i":6,"x":0,"y":-2.66},{"l":25,"i":7,"x":1.28,"y":-1.88},
{"l":26,"i":0,"x":1.96,"y":0},{"l":26,"i":1,"x":1.39,"y":1.92},{"l":26,"i":2,"x":0,"y":2.71},{"l":26,"i":3,"x":-1.39,"y":1.92},{"l":26,"i":4,"x":-1.96,"y":0},{"l":26,"i":5,"x":-1.39,"y":-1.92},{"l":26,"i":6,"x":0,"y":-2.71},{"l":26,"i":7,"x":1.39,"y":-1.92},
{"l":27,"i":0,"x":2.1,"y":0},{"l":27,"i":1,"x":1.48,"y":1.96},{"l":27,"i":2,"x":0,"y":2.77},{"l":27,"i":3,"x":-1.48,"y":1.96},{"l":27,"i":4,"x":-2.1,"y":0},{"l":27,"i":5,"x":-1.48,"y":-1.96},{"l":27,"i":6,"x":0,"y":-2.77},{"l":27,"i":7,"x":1.48,"y":-1.96},
{"l":28,"i":0,"x":1.89,"y":0},{"l":28,"i":1,"x":1.34,"y":1.99},{"l":28,"i":2,"x":0,"y":2.82},{"l":28,"i":3,"x":-1.34,"y":1.99},{"l":28,"i":4,"x":-1.89,"y":0},{"l":28,"i":5,"x":-1.34,"y":-1.99},{"l":28,"i":6,"x":0,"y":-2.82},{"l":28,"i":7,"x":1.34,"y":-1.99},
{"l":29,"i":0,"x":2.04,"y":0},{"l":29,"i":1,"x":1.44,"y":2.03},{"l":29,"i":2,"x":0,"y":2.88},{"l":29,"i":3,"x":-1.44,"y":2.03},{"l":29,"i":4,"x":-2.04,"y":0},{"l":29,"i":5,"x":-1.44,"y":-2.03},{"l":29,"i":6,"x":0,"y":-2.88},{"l":29,"i":7,"x":1.44,"y":-2.03},
{"l":30,"i":0,"x":1.83,"y":0},{"l":30,"i":1,"x":1.29,"y":2.07},{"l":30,"i":2,"x":0,"y":2.93},{"l":30,"i":3,"x":-1.29,"y":2.07},{"l":30,"i":4,"x":-1.83,"y":0},{"l":30,"i":5,"x":-1.29,"y":-2.07},{"l":30,"i":6,"x":0,"y":-2.93},{"l":30,"i":7,"x":1.29,"y":-2.07},
{"l":31,"i":0,"x":2.1,"y":0},{"l":31,"i":1,"x":1.48,"y":2.11},{"l":31,"i":2,"x":0,"y":2.99},{"l":31,"i":3,"x":-1.48,"y":2.11},{"l":31,"i":4,"x":-2.1,"y":0},{"l":31,"i":5,"x":-1.48,"y":-2.11},{"l":31,"i":6,"x":0,"y":-2.99},{"l":31,"i":7,"x":1.48,"y":-2.11}
],
"crot": [
{"l":0,"i":0,"x":1.97,"y":1},{"l":0,"i":1,"x":1.1,"y":1.83},{"l":0,"i":2,"x":-0.41,"y":1.59},{"l":0,"i":3,"x":-1.68,"y":0.41},{"l":0,"i":4,"x":-1.97,"y":-1},{"l":0,"i":5,"x":-1.1,"y":-1.83},{"l":0,"i":6,"x":0.41,"y":-1.59},{"l":0,"i":7,"x":1.68,"y":-0.41},
{"l":1,"i":0,"x":-1.97,"y":1},{"l":1,"i":1,"x":-1.1,"y":1.83},{"l":1,"i":2,"x":0.41,"y":1.59},{"l":1,"i":3,"x":1.68,"y":0.41},{"l":1,"i":4,"x":1.97,"y":-1},{"l":1,"i":5,"x":1.1,"y":-1.83},{"l":1,"i":6,"x":-0.41,"y":-1.59},{"l":1,"i":7,"x":-1.68,"y":-0.41},
{"l":2,"i":0,"x":1.71,"y":1.68},{"l":2,"i":1,"x":0.63,"y":2.35},{"l":2,"i":2,"x":-0.82,"y":1.65},{"l":2,"i":3,"x":-1.79,"y":-0.02},{"l":2,"i":4,"x":-1.71,"y":-1.68},{"l":2,"i":5,"x":-0.63,"y":-2.35},{"l":2,"i":6,"x":0.82,"y":-1.65},{"l":2,"i":7,"x":1.79,"y":0.02},
{"l":3,"i":0,"x":-1.71,"y":1.68},{"l":3,"i":1,"x":-0.63,"y":2.35},{"l":3,"i":2,"x":0.82,"y":1.65},{"l":3,"i":3,"x":1.79,"y":-0.02},{"l":3,"i":4,"x":1.71,"y":-1.68},{"l":3,"i":5,"x":0.63,"y":-2.35},{"l":3,"i":6,"x":-0.82,"y":-1.65},{"l":3,"i":7,"x":-1.79,"y":0.02},
{"l":4,"i":0,"x":1.34,"y":2.24},{"l":4,"i":1,"x":0.05,"y":2.65},{"l":4,"i":2,"x":-1.27,"y":1.5},{"l":4,"i":3,"x":-1.85,"y":-0.53},{"l":4,"i":4,"x":-1.34,"y":-2.24},{"l":4,"i":5,"x":-0.05,"y":-2.65},{"l":4,"i":6,"x":1.27,"y":-1.5},{"l":4,"i":7,"x":1.85,"y":0.53},
{"l":5,"i":0,"x":-1.34,"y":2.24},{"l":5,"i":1,"x":-0.05,"y":2.65},{"l":5,"i":2,"x":1.27,"y":1.5},{"l":5,"i":3,"x":1.85,"y":-0.53},{"l":5,"i":4,"x":1.34,"y":-2.24},{"l":5,"i":5,"x":0.05,"y":-2.65},{"l":5,"i":6,"x":-1.27,"y":-1.5},{"l":5,"i":7,"x":-1.85,"y":0.53},
{"l":6,"i":0,"x":0.89,"y":2.65},{"l":6,"i":1,"x":-0.55,"y":2.65},{"l":6,"i":2,"x":-1.66,"y":1.09},{"l":6,"i":3,"x":-1.8,"y":-1.11},{"l":6,"i":4,"x":-0.89,"y":-2.65},{"l":6,"i":5,"x":0.55,"y":-2.65},{"l":6,"i":6,"x":1.66,"y":-1.09},{"l":6,"i":7,"x":1.8,"y":1.11},
{"l":7,"i":0,"x":-0.89,"y":2.65},{"l":7,"i":1,"x":0.55,"y":2.65},{"l":7,"i":2,"x":1.66,"y":1.09},{"l":7,"i":3,"x":1.8,"y":-1.11},{"l":7,"i":4,"x":0.89,"y":-2.65},{"l":7,"i":5,"x":-0.55,"y":-2.65},{"l":7,"i":6,"x":-1.66,"y":-1.09},{"l":7,"i":7,"x":-1.8,"y":1.11},
{"l":8,"i":0,"x":2.03,"y":0.5},{"l":8,"i":1,"x":1.3,"y":1.42},{"l":8,"i":2,"x":-0.19,"y":1.5},{"l":8,"i":3,"x":-1.57,"y":0.71},{"l":8,"i":4,"x":-2.03,"y":-0.5},{"l":8,"i":5,"x":-1.3,"y":-1.42},{"l":8,"i":6,"x":0.19,"y":-1.5},{"l":8,"i":7,"x":1.57,"y":-0.71},
{"l":9,"i":0,"x":-2.03,"y":0.5},{"l":9,"i":1,"x":-1.3,"y":1.42},{"l":9,"i":2,"x":0.19,"y":1.5},{"l":9,"i":3,"x":1.57,"y":0.71},{"l":9,"i":4,"x":2.03,"y":-0.5},{"l":9,"i":5,"x":1.3,"y":-1.42},{"l":9,"i":6,"x":-0.19,"y":-1.5},{"l":9,"i":7,"x":-1.57,"y":-0.71},
{"l":10,"i":0,"x":1.8,"y":1.34},{"l":10,"i":1,"x":0.83,"y":2.1},{"l":10,"i":2,"x":-0.62,"y":1.63},{"l":10,"i":3,"x":-1.71,"y":0.21},{"l":10,"i":4,"x":-1.8,"y":-1.34},{"l":10,"i":5,"x":-0.83,"y":-2.1},{"l":10,"i":6,"x":0.62,"y":-1.63},{"l":10,"i":7,"x":1.71,"y":-0.21},
{"l":11,"i":0,"x":-1.8,"y":1.34},{"l":11,"i":1,"x":-0.83,"y":2.1},{"l":11,"i":2,"x":0.62,"y":1.63},{"l":11,"i":3,"x":1.71,"y":-0.21},{"l":11,"i":4,"x":1.8,"y":-1.34},{"l":11,"i":5,"x":0.83,"y":-2.1},{"l":11,"i":6,"x":-0.62,"y":-1.63},{"l":11,"i":7,"x":-1.71,"y":0.21},
{"l":12,"i":0,"x":1.53,"y":1.94},{"l":12,"i":1,"x":0.35,"y":2.51},{"l":12,"i":2,"x":-1.03,"y":1.61},{"l":12,"i":3,"x":-1.81,"y":-0.23},{"l":12,"i":4,"x":-1.53,"y":-1.94},{"l":12,"i":5,"x":-0.35,"y":-2.51},{"l":12,"i":6,"x":1.03,"y":-1.61},{"l":12,"i":7,"x":1.81,"y":0.23},
{"l":13,"i":0,"x":-1.53,"y":1.94},{"l":13,"i":1,"x":-0.35,"y":2.51},{"l":13,"i":2,"x":1.03,"y":1.61},{"l":13,"i":3,"x":1.81,"y":-0.23},{"l":13,"i":4,"x":1.53,"y":-1.94},{"l":13,"i":5,"x":0.35,"y":-2.51},{"l":13,"i":6,"x":-1.03,"y":-1.61},{"l":13,"i":7,"x":-1.81,"y":0.23},
{"l":14,"i":0,"x":1.11,"y":2.49},{"l":14,"i":1,"x":-0.26,"y":2.67},{"l":14,"i":2,"x":-1.48,"y":1.3},{"l":14,"i":3,"x":-1.83,"y":-0.84},{"l":14,"i":4,"x":-1.11,"y":-2.49},{"l":14,"i":5,"x":0.26,"y":-2.67},{"l":14,"i":6,"x":1.48,"y":-1.3},{"l":14,"i":7,"x":1.83,"y":0.84},
{"l":15,"i":0,"x":-1.11,"y":2.49},{"l":15,"i":1,"x":0.26,"y":2.67},{"l":15,"i":2,"x":1.48,"y":1.3},{"l":15,"i":3,"x":1.83,"y":-0.84},{"l":15,"i":4,"x":1.11,"y":-2.49},{"l":15,"i":5,"x":-0.26,"y":-2.67},{"l":15,"i":6,"x":-1.48,"y":-1.3},{"l":15,"i":7,"x":-1.83,"y":0.84}
],
"ccore": [
{"l":0,"i":0,"x":0.6,"y":0},{"l":0,"i":1,"x":0.42,"y":0.86},{"l":0,"i":2,"x":0,"y":1.22},{"l":0,"i":3,"x":-0.42,"y":0.86},{"l":0,"i":4,"x":-0.6,"y":0},{"l":0,"i":5,"x":-0.42,"y":-0.86},{"l":0,"i":6,"x":0,"y":-1.22},{"l":0,"i":7,"x":0.42,"y":-0.86},
{"l":1,"i":0,"x":0.54,"y":0},{"l":1,"i":1,"x":0.38,"y":0.85},{"l":1,"i":2,"x":0,"y":1.2},{"l":1,"i":3,"x":-0.38,"y":0.85},{"l":1,"i":4,"x":-0.54,"y":0},{"l":1,"i":5,"x":-0.38,"y":-0.85},{"l":1,"i":6,"x":0,"y":-1.2},{"l":1,"i":7,"x":0.38,"y":-0.85},
{"l":2,"i":0,"x":0.48,"y":0},{"l":2,"i":1,"x":0.34,"y":0.84},{"l":2,"i":2,"x":0,"y":1.19},{"l":2,"i":3,"x":-0.34,"y":0.84},{"l":2,"i":4,"x":-0.48,"y":0},{"l":2,"i":5,"x":-0.34,"y":-0.84},{"l":2,"i":6,"x":0,"y":-1.19},{"l":2,"i":7,"x":0.34,"y":-0.84},
{"l":3,"i":0,"x":0.42,"y":0},{"l":3,"i":1,"x":0.3,"y":0.85},{"l":3,"i":2,"x":0,"y":1.2},{"l":3,"i":3,"x":-0.3,"y":0.85},{"l":3,"i":4,"x":-0.42,"y":0},{"l":3,"i":5,"x":-0.3,"y":-0.85},{"l":3,"i":6,"x":0,"y":-1.2},{"l":3,"i":7,"x":0.3,"y":-0.85}
],
"clens": [
{"l":0,"i":0,"x":0.72,"y":0},{"l":0,"i":1,"x":0.51,"y":0.85},{"l":0,"i":2,"x":0,"y":1.2},{"l":0,"i":3,"x":-0.51,"y":0.85},{"l":0,"i":4,"x":-0.72,"y":0},{"l":0,"i":5,"x":-0.51,"y":-0.85},{"l":0,"i":6,"x":0,"y":-1.2},{"l":0,"i":7,"x":0.51,"y":-0.85},
{"l":1,"i":0,"x":0.84,"y":0},{"l":1,"i":1,"x":0.59,"y":0.85},{"l":1,"i":2,"x":0,"y":1.2},{"l":1,"i":3,"x":-0.59,"y":0.85},{"l":1,"i":4,"x":-0.84,"y":0},{"l":1,"i":5,"x":-0.59,"y":-0.85},{"l":1,"i":6,"x":0,"y":-1.2},{"l":1,"i":7,"x":0.59,"y":-0.85},
{"l":2,"i":0,"x":0.96,"y":0},{"l":2,"i":1,"x":0.68,"y":0.85},{"l":2,"i":2,"x":0,"y":1.2},{"l":2,"i":3,"x":-0.68,"y":0.85},{"l":2,"i":4,"x":-0.96,"y":0},{"l":2,"i":5,"x":-0.68,"y":-0.85},{"l":2,"i":6,"x":0,"y":-1.2},{"l":2,"i":7,"x":0.68,"y":-0.85},
{"l":3,"i":0,"x":1.08,"y":0},{"l":3,"i":1,"x":0.76,"y":0.85},{"l":3,"i":2,"x":0,"y":1.2},{"l":3,"i":3,"x":-0.76,"y":0.85},{"l":3,"i":4,"x":-1.08,"y":0},{"l":3,"i":5,"x":-0.76,"y":-0.85},{"l":3,"i":6,"x":0,"y":-1.2},{"l":3,"i":7,"x":0.76,"y":-0.85},
{"l":4,"i":0,"x":1.2,"y":0},{"l":4,"i":1,"x":0.85,"y":0.85},{"l":4,"i":2,"x":0,"y":1.2},{"l":4,"i":3,"x":-0.85,"y":0.85},{"l":4,"i":4,"x":-1.2,"y":0},{"l":4,"i":5,"x":-0.85,"y":-0.85},{"l":4,"i":6,"x":0,"y":-1.2},{"l":4,"i":7,"x":0.85,"y":-0.85},
{"l":5,"i":0,"x":1.32,"y":0},{"l":5,"i":1,"x":0.93,"y":0.85},{"l":5,"i":2,"x":0,"y":1.2},{"l":5,"i":3,"x":-0.93,"y":0.85},{"l":5,"i":4,"x":-1.32,"y":0},{"l":5,"i":5,"x":-0.93,"y":-0.85},{"l":5,"i":6,"x":0,"y":-1.2},{"l":5,"i":7,"x":0.93,"y":-0.85},
{"l":6,"i":0,"x":1.44,"y":0},{"l":6,"i":1,"x":1.02,"y":0.85},{"l":6,"i":2,"x":0,"y":1.2},{"l":6,"i":3,"x":-1.02,"y":0.85},{"l":6,"i":4,"x":-1.44,"y":0},{"l":6,"i":5,"x":-1.02,"y":-0.85},{"l":6,"i":6,"x":0,"y":-1.2},{"l":6,"i":7,"x":1.02,"y":-0.85},
{"l":7,"i":0,"x":1.56,"y":0},{"l":7,"i":1,"x":1.1,"y":0.85},{"l":7,"i":2,"x":0,"y":1.2},{"l":7,"i":3,"x":-1.1,"y":0.85},{"l":7,"i":4,"x":-1.56,"y":0},{"l":7,"i":5,"x":-1.1,"y":-0.85},{"l":7,"i":6,"x":0,"y":-1.2},{"l":7,"i":7,"x":1.1,"y":-0.85},
{"l":8,"i":0,"x":1.68,"y":0},{"l":8,"i":1,"x":1.19,"y":0.85},{"l":8,"i":2,"x":0,"y":1.2},{"l":8,"i":3,"x":-1.19,"y":0.85},{"l":8,"i":4,"x":-1.68,"y":0},{"l":8,"i":5,"x":-1.19,"y":-0.85},{"l":8,"i":6,"x":0,"y":-1.2},{"l":8,"i":7,"x":1.19,"y":-0.85}
],
"origin": [{"x":0,"y":0}]
},
"concat": [
{
"width": 245, "height": 196,
"title": {"text": "a)periodic state", "offset": 29, "dx": 8},
"resolve": {"axis": {"x": "independent", "y": "independent"}},
"layer": [
{"data": {"name": "a"}, "mark": {"type": "line", "strokeWidth": 1.3, "interpolate": "linear"},
 "encoding": {
  "x": {"field": "x", "type": "quantitative", "scale": {"domain": [-4, 4], "nice": false}, "axis": {"orient": "bottom", "values": [-4, -2, 0, 2, 4], "title": null}},
  "y": {"field": "y", "type": "quantitative", "scale": {"domain": [-50, 50], "nice": false}, "axis": {"orient": "left", "values": [-50, 0, 50], "title": null, "minExtent": 46}},
  "order": {"field": "i", "type": "quantitative"},
  "color": {"field": "s", "type": "nominal", "scale": {"domain": ["o", "n"], "range": ["#5548c8", "#8a86dd"]}, "legend": null}
 }},
{"data": {"name": "origin"}, "mark": {"type": "point", "opacity": 0},
 "encoding": {
  "x": {"field": "x", "type": "quantitative", "scale": {"domain": [-4, 4], "nice": false}, "axis": {"orient": "top", "values": [-4, -2, 0, 2, 4], "labels": false, "title": null, "minExtent": 10, "maxExtent": 10}},
  "y": {"field": "y", "type": "quantitative", "scale": {"domain": [-50, 50], "nice": false}, "axis": {"orient": "right", "values": [-50, 0, 50], "labels": false, "title": null}}
 }}
]
},
{
"width": 254, "height": 200,
"title": {"text": "b)period bifurcation", "offset": 32, "dx": 1},
"resolve": {"axis": {"x": "independent", "y": "independent"}},
"layer": [
{"data": {"name": "b"}, "mark": {"type": "line", "strokeWidth": 0.8, "interpolate": "cardinal-closed", "color": "#1c28e0"},
 "encoding": {
  "x": {"field": "x", "type": "quantitative", "scale": {"domain": [-4, 4], "nice": false}, "axis": {"orient": "bottom", "values": [-4, -2, 0, 2, 4], "title": null}},
  "y": {"field": "y", "type": "quantitative", "scale": {"domain": [-4, 4], "nice": false}, "axis": {"orient": "left", "values": [-4, -2, 0, 2, 4], "title": null, "minExtent": 43}},
  "detail": {"field": "l", "type": "nominal"},
  "order": {"field": "i", "type": "quantitative"}
 }},
{"data": {"name": "origin"}, "mark": {"type": "point", "opacity": 0},
 "encoding": {
  "x": {"field": "x", "type": "quantitative", "scale": {"domain": [-4, 4], "nice": false}, "axis": {"orient": "top", "values": [-4, -2, 0, 2, 4], "labels": false, "title": null, "minExtent": 11, "maxExtent": 11}},
  "y": {"field": "y", "type": "quantitative", "scale": {"domain": [-4, 4], "nice": false}, "axis": {"orient": "right", "values": [-4, -2, 0, 2, 4], "labels": false, "title": null}}
 }}
]
},
{
"width": 279, "height": 199,
"title": {"text": "c) chaotic state", "offset": 38, "dx": -16.5},
"resolve": {"axis": {"x": "independent", "y": "independent"}},
"layer": [
{"data": {"name": "cring"}, "mark": {"type": "line", "strokeWidth": 1.6, "interpolate": "cardinal-closed", "color": "#1f2fe6"},
 "encoding": {
  "x": {"field": "x", "type": "quantitative", "scale": {"domain": [-4, 4], "nice": false}, "axis": {"orient": "bottom", "values": [-4, -2, 0, 2, 4], "title": "x", "titlePadding": 9}},
  "y": {"field": "y", "type": "quantitative", "scale": {"domain": [-4, 4], "nice": false}, "axis": {"orient": "left", "values": [-4, -2, 0, 2, 4], "title": "y", "minExtent": 16, "titlePadding": 12}},
  "detail": {"field": "l", "type": "nominal"},
  "order": {"field": "i", "type": "quantitative"}
 }},
{"data": {"name": "clens"}, "mark": {"type": "line", "strokeWidth": 0.7, "interpolate": "cardinal-closed", "color": "#8a93f2"},
 "encoding": {
  "x": {"field": "x", "type": "quantitative", "scale": {"domain": [-4, 4], "nice": false}, "axis": null},
  "y": {"field": "y", "type": "quantitative", "scale": {"domain": [-4, 4], "nice": false}, "axis": null},
  "detail": {"field": "l", "type": "nominal"},
  "order": {"field": "i", "type": "quantitative"}
 }},
{"data": {"name": "crot"}, "mark": {"type": "line", "strokeWidth": 1.4, "interpolate": "cardinal-closed", "color": "#1f2fe6"},
 "encoding": {
  "x": {"field": "x", "type": "quantitative", "scale": {"domain": [-4, 4], "nice": false}, "axis": null},
  "y": {"field": "y", "type": "quantitative", "scale": {"domain": [-4, 4], "nice": false}, "axis": null},
  "detail": {"field": "l", "type": "nominal"},
  "order": {"field": "i", "type": "quantitative"}
 }},
{"data": {"name": "ccore"}, "mark": {"type": "line", "strokeWidth": 1.6, "interpolate": "cardinal-closed", "color": "#1a24d8"},
 "encoding": {
  "x": {"field": "x", "type": "quantitative", "scale": {"domain": [-4, 4], "nice": false}, "axis": null},
  "y": {"field": "y", "type": "quantitative", "scale": {"domain": [-4, 4], "nice": false}, "axis": null},
  "detail": {"field": "l", "type": "nominal"},
  "order": {"field": "i", "type": "quantitative"}
 }},
{"data": {"name": "origin"}, "mark": {"type": "point", "opacity": 0},
 "encoding": {
  "x": {"field": "x", "type": "quantitative", "scale": {"domain": [-4, 4], "nice": false}, "axis": {"orient": "top", "values": [-4, -2, 0, 2, 4], "labels": false, "title": null, "minExtent": 14, "maxExtent": 14}},
  "y": {"field": "y", "type": "quantitative", "scale": {"domain": [-4, 4], "nice": false}, "axis": {"orient": "right", "values": [-4, -2, 0, 2, 4], "labels": false, "title": null}}
 }}
]
}
],
"config": {
 "view": {"stroke": "#8c8c8c", "strokeWidth": 1},
 "axis": {"grid": false, "domainColor": "#8c8c8c", "tickColor": "#8c8c8c", "tickSize": -4, "labelColor": "#1a1a1a", "labelFont": "Liberation Sans", "labelFontSize": 15, "labelFlush": false, "labelOverlap": false, "titleFont": "Liberation Sans", "titleFontSize": 14, "titleFontWeight": "normal", "titleColor": "#1a1a1a"},
 "axisX": {"labelPadding": 7},
 "axisY": {"labelPadding": 6},
 "title": {"font": "Liberation Serif", "fontSize": 20, "fontWeight": "normal", "color": "#000000", "orient": "bottom", "anchor": "middle", "frame": "group", "baseline": "top"}
}
}
